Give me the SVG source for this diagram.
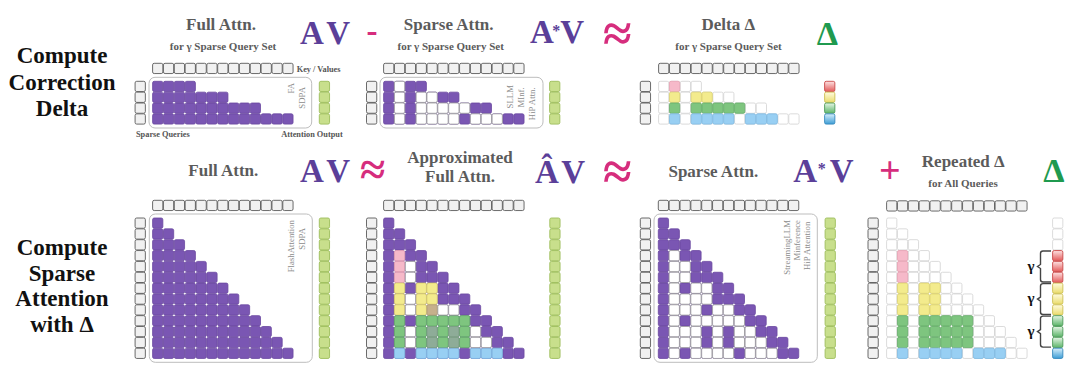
<svg xmlns="http://www.w3.org/2000/svg" width="1080" height="381" viewBox="0 0 1080 381">
<style>
text{font-family:"Liberation Serif","Times New Roman",serif}
.lbl{font-size:23px;font-weight:bold;fill:#111;text-anchor:middle}
.ttl{font-size:17px;font-weight:bold;fill:#5b5b5b;text-anchor:middle}
.sub{font-size:11px;font-weight:bold;fill:#5b5b5b;text-anchor:middle}
.sm{font-size:8.3px;font-weight:bold;fill:#555}
.rot{font-size:8.8px;fill:#8c8c8c;text-anchor:end}
.big{font-size:33px;font-weight:bold;fill:#5b3f99}
.op{font-weight:bold;fill:#d62d7d}
.dl{font-size:34px;font-weight:bold;fill:#1f9a4f}
.gam{font-size:15px;font-weight:bold;fill:#111;text-anchor:middle}
.g{fill:#f1f1f1;stroke:#5a5a5a;stroke-width:0.9}
.o{fill:#c8df8c;stroke:#9dbd5b;stroke-width:0.9}
.p{fill:#7a56b3;stroke:#6a48a0;stroke-width:0.8}
.w{fill:#fff;stroke:#a0a0a0;stroke-width:0.8}
.lw{fill:#fff;stroke:#d2d2d2;stroke-width:0.8}
.pk{fill:#f6b9c9;stroke:#e8a2b4;stroke-width:0.8}
.yl{fill:#f3eb8d;stroke:#ddd36e;stroke-width:0.8}
.gn{fill:#7ec57f;stroke:#66ae69;stroke-width:0.8}
.bl{fill:#98cff3;stroke:#7fbbe4;stroke-width:0.8}
.yp{fill:#c6b08c;stroke:#b19c7a;stroke-width:0.8}
.gp{fill:#8eac98;stroke:#7d9a86;stroke-width:0.8}
.dr{fill:url(#gR);stroke:#c94a4a;stroke-width:0.9}
.dy{fill:url(#gY);stroke:#cdbf52;stroke-width:0.9}
.dg{fill:url(#gG);stroke:#4d9b59;stroke-width:0.9}
.db{fill:url(#gB);stroke:#3589bd;stroke-width:0.9}
.fr{fill:none;stroke:#bdbdbd;stroke-width:1}
.br{fill:none;stroke:#444;stroke-width:1.4}
</style>
<defs>
<linearGradient id="gR" x1="0" y1="0" x2="0" y2="1"><stop offset="0" stop-color="#fde2e2"/><stop offset="1" stop-color="#e35a5a"/></linearGradient>
<linearGradient id="gY" x1="0" y1="0" x2="0" y2="1"><stop offset="0" stop-color="#fffbe0"/><stop offset="1" stop-color="#eadc6c"/></linearGradient>
<linearGradient id="gG" x1="0" y1="0" x2="0" y2="1"><stop offset="0" stop-color="#e6f5e6"/><stop offset="1" stop-color="#5cb569"/></linearGradient>
<linearGradient id="gB" x1="0" y1="0" x2="0" y2="1"><stop offset="0" stop-color="#d8effb"/><stop offset="1" stop-color="#3d9dd5"/></linearGradient>
<rect id="c" x="0.3" y="0.3" width="10.25" height="10.25" rx="1.6"/>
<g id="r1"><use href="#c"/></g>
<g id="r2"><use href="#r1"/><use href="#c" x="10.85"/></g>
<g id="r3"><use href="#r2"/><use href="#c" x="21.7"/></g>
<g id="r4"><use href="#r3"/><use href="#c" x="32.55"/></g>
<g id="r5"><use href="#r4"/><use href="#c" x="43.4"/></g>
<g id="r6"><use href="#r5"/><use href="#c" x="54.25"/></g>
<g id="r7"><use href="#r6"/><use href="#c" x="65.1"/></g>
<g id="r8"><use href="#r7"/><use href="#c" x="75.95"/></g>
<g id="r9"><use href="#r8"/><use href="#c" x="86.8"/></g>
<g id="r10"><use href="#r9"/><use href="#c" x="97.65"/></g>
<g id="r11"><use href="#r10"/><use href="#c" x="108.5"/></g>
<g id="r12"><use href="#r11"/><use href="#c" x="119.35"/></g>
<g id="r13"><use href="#r12"/><use href="#c" x="130.2"/></g>
<g id="v4"><use href="#c"/><use href="#c" y="10.85"/><use href="#c" y="21.7"/><use href="#c" y="32.55"/></g>
<g id="v13"><use href="#v4"/><use href="#v4" y="43.4"/><use href="#v4" y="86.8"/><use href="#c" y="130.2"/></g>
<g id="tri"><use href="#r1"/><use href="#r2" y="10.85"/><use href="#r3" y="21.7"/><use href="#r4" y="32.55"/><use href="#r5" y="43.4"/><use href="#r6" y="54.25"/><use href="#r7" y="65.1"/><use href="#r8" y="75.95"/><use href="#r9" y="86.8"/><use href="#r10" y="97.65"/><use href="#r11" y="108.5"/><use href="#r12" y="119.35"/><use href="#r13" y="130.2"/></g>
<g id="sub4"><use href="#r4"/><use href="#r7" y="10.85"/><use href="#r10" y="21.7"/><use href="#r13" y="32.55"/></g>
<g id="dP"><use href="#c" x="10.85"/></g>
<g id="dY"><use href="#c" x="10.85"/><use href="#c" x="32.55"/><use href="#c" x="43.4"/></g>
<g id="dG"><use href="#dY"/><use href="#c" x="54.25"/><use href="#c" x="65.1"/><use href="#c" x="75.95"/></g>
<g id="dB"><use href="#dY"/><use href="#c" x="54.25"/><use href="#c" x="65.1"/><use href="#c" x="86.8"/><use href="#c" x="97.65"/><use href="#c" x="108.5"/></g>
</defs>
<rect width="1080" height="381" fill="#fff"/>

<g id="label-correction">
<text class="lbl" x="62" y="63">Compute</text>
<text class="lbl" x="62" y="89.5">Correction</text>
<text class="lbl" x="62" y="116">Delta</text>
</g>
<g id="label-sparse">
<text class="lbl" x="62" y="255">Compute</text>
<text class="lbl" x="62" y="280.5">Sparse</text>
<text class="lbl" x="62" y="306">Attention</text>
<text class="lbl" x="62" y="332">with Δ</text>
</g>

<g id="node-full-attn-top">
<text class="ttl" x="221" y="30">Full Attn.</text>
<text class="sub" x="223" y="50">for γ Sparse Query Set</text>
<use href="#r13" class="g" x="152.3" y="63"/>
<text class="sm" x="296.7" y="71.5">Key / Values</text>
<use href="#v4" class="g" x="134.8" y="81"/>
<rect class="fr" x="149" y="77.3" width="162.7" height="50.7" rx="6"/>
<use href="#sub4" class="p" x="152.3" y="81"/>
<text class="rot" transform="translate(293.5,83) rotate(-90)">FA</text>
<text class="rot" transform="translate(305,87) rotate(-90)">SDPA</text>
<use href="#v4" class="o" x="319" y="81"/>
<text class="sm" x="136" y="137">Sparse Queries</text>
<text class="sm" x="342.7" y="137" text-anchor="end">Attention Output</text>
</g>

<g id="node-sparse-attn-top">
<text class="ttl" x="448.7" y="30">Sparse Attn.</text>
<text class="sub" x="450.7" y="50">for γ Sparse Query Set</text>
<use href="#r13" class="g" x="383.3" y="63"/>
<use href="#v4" class="g" x="366.2" y="81"/>
<rect class="fr" x="380" y="77.3" width="163" height="50.7" rx="6"/>
<use href="#sub4" class="p" x="383.3" y="81"/>
<g class="w" transform="translate(383.3,81)">
<use href="#dP"/><use href="#dY" y="10.85"/><use href="#dG" y="21.7"/><use href="#dB" y="32.55"/>
</g>
<text class="rot" transform="translate(512.5,85) rotate(-90)">SLLM</text>
<text class="rot" transform="translate(523.5,87.3) rotate(-90)">MInf.</text>
<text class="rot" transform="translate(535,87.3) rotate(-90)">HiP Attn.</text>
<use href="#v4" class="o" x="549.3" y="81"/>
</g>

<g id="node-delta-top">
<text class="ttl" x="728.3" y="30">Delta Δ</text>
<text class="sub" x="728.5" y="50">for γ Sparse Query Set</text>
<use href="#r13" class="g" x="658.3" y="63"/>
<use href="#v4" class="g" x="640" y="81"/>
<use href="#sub4" class="lw" x="658.3" y="81"/>
<g transform="translate(658.3,81)">
<use href="#dP" class="pk"/><use href="#dY" class="yl" y="10.85"/><use href="#dG" class="gn" y="21.7"/><use href="#dB" class="bl" y="32.55"/>
</g>
<use href="#c" class="dr" x="824.3" y="81"/>
<use href="#c" class="dy" x="824.3" y="91.85"/>
<use href="#c" class="dg" x="824.3" y="102.7"/>
<use href="#c" class="db" x="824.3" y="113.55"/>
</g>

<g id="node-full-attn">
<text class="ttl" x="223.3" y="176">Full Attn.</text>
<use href="#r13" class="g" x="152.3" y="200"/>
<use href="#v13" class="g" x="134.8" y="217.7"/>
<rect class="fr" x="149.3" y="214" width="163" height="148.3" rx="6"/>
<use href="#tri" class="p" x="152.3" y="217.7"/>
<text class="rot" transform="translate(294,220) rotate(-90)">FlashAttention</text>
<text class="rot" transform="translate(304.5,228) rotate(-90)">SDPA</text>
<use href="#v13" class="o" x="319" y="217.7"/>
</g>

<g id="node-approx-attn">
<text class="ttl" font-size="16"><tspan x="460" y="162.5">Approximated</tspan><tspan x="460" y="181.5">Full Attn.</tspan></text>
<use href="#r13" class="g" x="383.3" y="200"/>
<use href="#v13" class="g" x="366.2" y="217.7"/>
<use href="#tri" class="p" x="383.3" y="217.7"/>
<g transform="translate(383.3,217.7)">
<use href="#dP" class="pk" y="32.55"/><use href="#dP" class="pk" y="43.4"/><use href="#dP" class="pk" y="54.25"/>
<use href="#dY" class="yl" y="65.1"/><use href="#dY" class="yl" y="75.95"/><use href="#dY" class="yl" y="86.8"/>
<use href="#dG" class="gn" y="97.65"/><use href="#dG" class="gn" y="108.5"/><use href="#dG" class="gn" y="119.35"/>
<use href="#dB" class="bl" y="130.2"/>
<use href="#c" class="yp" x="43.4" y="86.8"/>
<use href="#c" class="gp" x="43.4" y="108.5"/><use href="#c" class="gp" x="65.1" y="108.5"/>
<use href="#c" class="gp" x="43.4" y="119.35"/><use href="#c" class="gp" x="65.1" y="119.35"/>
<g class="w">
<use href="#c" x="21.7" y="43.4"/><use href="#c" x="21.7" y="54.25"/><use href="#c" x="21.7" y="75.95"/>
<use href="#c" x="21.7" y="86.8"/><use href="#c" x="54.25" y="86.8"/><use href="#c" x="65.1" y="86.8"/>
<use href="#c" x="21.7" y="108.5"/><use href="#c" x="86.8" y="108.5"/>
<use href="#c" x="21.7" y="119.35"/><use href="#c" x="86.8" y="119.35"/><use href="#c" x="97.65" y="119.35"/>
</g>
</g>
<use href="#v13" class="o" x="549.5" y="217.7"/>
</g>

<g id="node-sparse-attn">
<text class="ttl" x="713.3" y="176.7">Sparse Attn.</text>
<use href="#r13" class="g" x="658" y="200"/>
<use href="#v13" class="g" x="640" y="217.7"/>
<rect class="fr" x="654" y="214" width="163.3" height="148.3" rx="6"/>
<use href="#tri" class="p" x="658" y="217.7"/>
<g class="w" transform="translate(658,217.7)">
<use href="#c" x="10.85" y="32.55"/>
<use href="#c" x="10.85" y="43.4"/><use href="#c" x="21.7" y="43.4"/>
<use href="#c" x="10.85" y="54.25"/><use href="#c" x="21.7" y="54.25"/>
<use href="#dY" y="65.1"/>
<use href="#dY" y="75.95"/><use href="#c" x="21.7" y="75.95"/>
<use href="#c" x="10.85" y="86.8"/><use href="#c" x="21.7" y="86.8"/><use href="#c" x="32.55" y="86.8"/><use href="#c" x="54.25" y="86.8"/><use href="#c" x="65.1" y="86.8"/>
<use href="#dG" y="97.65"/>
<use href="#c" x="10.85" y="108.5"/><use href="#c" x="21.7" y="108.5"/><use href="#c" x="32.55" y="108.5"/><use href="#c" x="54.25" y="108.5"/><use href="#c" x="75.95" y="108.5"/><use href="#c" x="86.8" y="108.5"/>
<use href="#c" x="10.85" y="119.35"/><use href="#c" x="21.7" y="119.35"/><use href="#c" x="32.55" y="119.35"/><use href="#c" x="54.25" y="119.35"/><use href="#c" x="75.95" y="119.35"/><use href="#c" x="86.8" y="119.35"/><use href="#c" x="97.65" y="119.35"/>
<use href="#dB" y="130.2"/>
</g>
<text class="rot" transform="translate(789.5,220) rotate(-90)">StreamingLLM</text>
<text class="rot" transform="translate(799.5,220) rotate(-90)">Minference</text>
<text class="rot" transform="translate(810,221.7) rotate(-90)">HiP Attention</text>
<use href="#v13" class="o" x="824.8" y="217.7"/>
</g>

<g id="node-repeated-delta">
<text class="ttl" x="963.3" y="167">Repeated Δ</text>
<text class="sub" x="963" y="187">for All Queries</text>
<use href="#r13" class="g" x="886.3" y="200.5"/>
<use href="#v13" class="g" x="867.7" y="217.7"/>
<use href="#tri" class="lw" x="886.3" y="217.7"/>
<g transform="translate(886.3,217.7)">
<use href="#dP" class="pk" y="32.55"/><use href="#dP" class="pk" y="43.4"/><use href="#dP" class="pk" y="54.25"/>
<use href="#dY" class="yl" y="65.1"/><use href="#dY" class="yl" y="75.95"/><use href="#dY" class="yl" y="86.8"/>
<use href="#dG" class="gn" y="97.65"/><use href="#dG" class="gn" y="108.5"/><use href="#dG" class="gn" y="119.35"/>
<use href="#dB" class="bl" y="130.2"/>
</g>
<g transform="translate(1052.3,217.7)">
<use href="#c" class="lw"/><use href="#c" class="lw" y="10.85"/><use href="#c" class="lw" y="21.7"/>
<use href="#c" class="dr" y="32.55"/><use href="#c" class="dr" y="43.4"/><use href="#c" class="dr" y="54.25"/>
<use href="#c" class="dy" y="65.1"/><use href="#c" class="dy" y="75.95"/><use href="#c" class="dy" y="86.8"/>
<use href="#c" class="dg" y="97.65"/><use href="#c" class="dg" y="108.5"/><use href="#c" class="dg" y="119.35"/>
<use href="#c" class="db" y="130.2"/>
</g>
</g>

<g id="operators">
<text class="big" x="300" y="44.3" textLength="50">AV</text>
<text class="op" x="366.5" y="42" font-size="33">-</text>
<text class="big" x="530" y="43.3">A<tspan font-size="16" dx="-1.5" dy="-7.3">*</tspan><tspan dy="7.3">V</tspan></text>
<text class="op" x="603" y="51" font-size="52" textLength="30">≈</text>
<text class="dl" x="816.7" y="45" textLength="25">Δ</text>
<text class="big" x="300" y="181.7" textLength="50">AV</text>
<text class="op" x="360" y="185" font-size="46" textLength="26">≈</text>
<text class="big" x="535" y="182.7" textLength="50">ÂV</text>
<text class="op" x="603" y="189" font-size="52" textLength="29">≈</text>
<text class="big" x="793.3" y="181.7">A<tspan font-size="16" dx="0.7" dy="-7.3">*</tspan><tspan dx="4" dy="7.3">V</tspan></text>
<text class="op" x="879" y="183" font-size="38" font-weight="normal">+</text>
<text class="dl" x="1043.3" y="181.7" textLength="26.7">Δ</text>
</g>

<g id="connectors">
<path class="br" d="M1051,251 H1043 Q1040.5,251 1040.5,253.5 V264.5 L1037.5,266.5 L1040.5,268.5 V279.5 Q1040.5,282 1043,282 H1051"/>
<path class="br" d="M1051,283.6 H1043 Q1040.5,283.6 1040.5,286.1 V297.1 L1037.5,299.1 L1040.5,301.1 V312 Q1040.5,314.5 1043,314.5 H1051"/>
<path class="br" d="M1051,316.1 H1043 Q1040.5,316.1 1040.5,318.6 V329.6 L1037.5,331.6 L1040.5,333.6 V344.6 Q1040.5,347.1 1043,347.1 H1051"/>
<text class="gam" x="1031" y="270.5">γ</text>
<text class="gam" x="1031" y="303">γ</text>
<text class="gam" x="1031" y="335.5">γ</text>
</g>
</svg>
